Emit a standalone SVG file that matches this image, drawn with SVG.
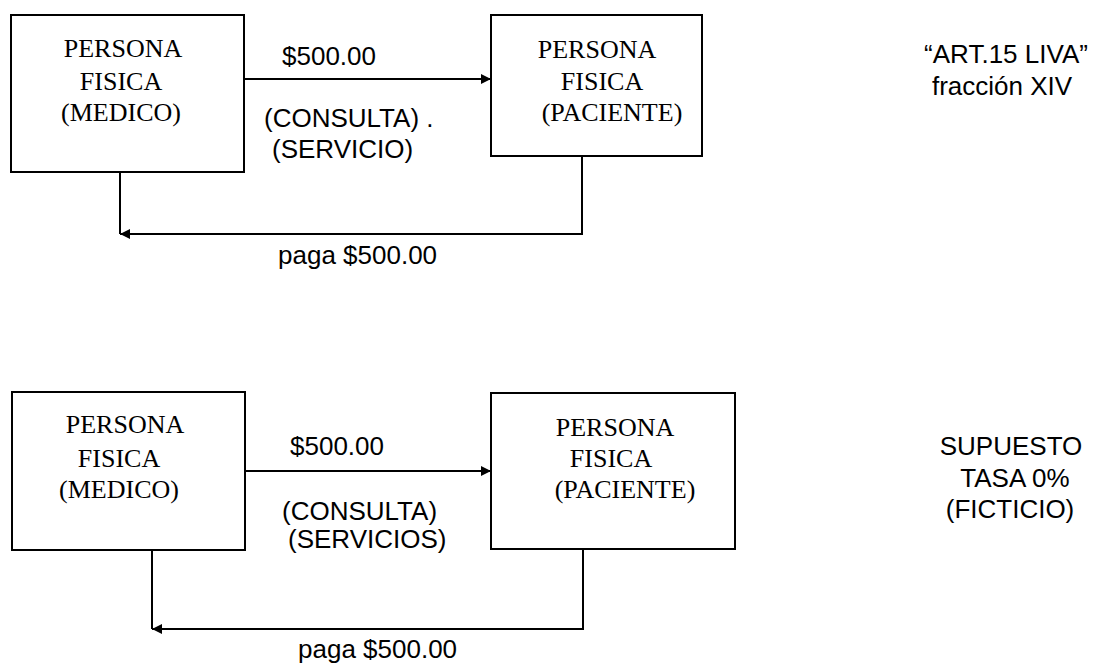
<svg xmlns="http://www.w3.org/2000/svg" width="1094" height="666" viewBox="0 0 1094 666">
<style>
.box{fill:#fff;stroke:#000;stroke-width:2}
.ser{font-family:"Liberation Serif","Times New Roman",serif;font-size:26px;fill:#000;text-anchor:middle}
.sans{font-family:"Liberation Sans",Arial,sans-serif;font-size:26px;fill:#000}
.mid{text-anchor:middle}
.ln{fill:none;stroke:#000;stroke-width:2}
</style>
<defs>
<marker id="ah" viewBox="0 0 10 10" refX="10" refY="5" markerWidth="11" markerHeight="10" markerUnits="userSpaceOnUse" orient="auto">
<path d="M0,0 L10,5 L0,10 z" fill="#000"/>
</marker>
</defs>
<g id="medico1">
<rect class="box" x="11" y="15" width="233" height="157"/>
<text class="ser" x="123" y="57">PERSONA</text>
<text class="ser" x="121" y="90">FISICA</text>
<text class="ser" x="121" y="121">(MEDICO)</text>
</g>
<g id="paciente1">
<rect class="box" x="491" y="15" width="211" height="141"/>
<text class="ser" x="597" y="58">PERSONA</text>
<text class="ser" x="602" y="90">FISICA</text>
<text class="ser" x="612" y="121">(PACIENTE)</text>
</g>
<g id="medico2">
<rect class="box" x="12" y="392" width="233" height="158"/>
<text class="ser" x="125" y="433">PERSONA</text>
<text class="ser" x="119" y="467">FISICA</text>
<text class="ser" x="119" y="498">(MEDICO)</text>
</g>
<g id="paciente2">
<rect class="box" x="491" y="393" width="244" height="156"/>
<text class="ser" x="615" y="436">PERSONA</text>
<text class="ser" x="611" y="467">FISICA</text>
<text class="ser" x="625" y="498">(PACIENTE)</text>
</g>
<g id="connectors">
<line class="ln" x1="244" y1="79" x2="491" y2="79" marker-end="url(#ah)"/>
<polyline class="ln" points="582,156 582,234 120,234" marker-end="url(#ah)"/>
<line class="ln" x1="120" y1="172" x2="120" y2="234"/>
<line class="ln" x1="245" y1="471" x2="491" y2="471" marker-end="url(#ah)"/>
<polyline class="ln" points="583,549 583,629 152,629" marker-end="url(#ah)"/>
<line class="ln" x1="152" y1="550" x2="152" y2="629"/>
</g>
<g id="labels">
<text class="sans" x="282" y="65">$500.00</text>
<text class="sans" x="264" y="127">(CONSULTA) .</text>
<text class="sans" x="272" y="158">(SERVICIO)</text>
<text class="sans" x="278" y="264">paga $500.00</text>
<text class="sans mid" x="1006" y="63">“ART.15 LIVA”</text>
<text class="sans mid" x="1002" y="95">fracción XIV</text>
<text class="sans" x="290" y="455">$500.00</text>
<text class="sans" x="282" y="520">(CONSULTA)</text>
<text class="sans" x="288" y="548">(SERVICIOS)</text>
<text class="sans" x="298" y="658">paga $500.00</text>
<text class="sans mid" x="1011" y="455">SUPUESTO</text>
<text class="sans mid" x="1015" y="487">TASA 0%</text>
<text class="sans mid" x="1010" y="518">(FICTICIO)</text>
</g>
</svg>
